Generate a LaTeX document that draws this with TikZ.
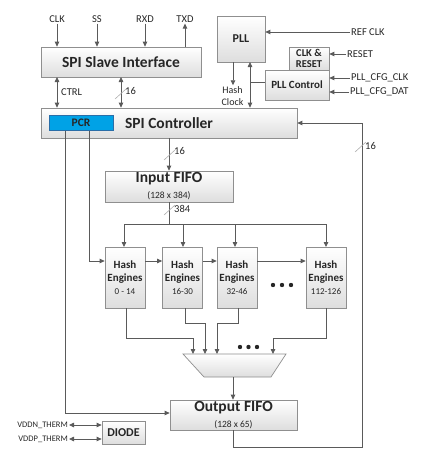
\documentclass[tikz,border=0pt]{standalone}
\usepackage{fontspec}
\setmainfont{Carlito}
\usetikzlibrary{arrows.meta,calc}
\definecolor{ln}{HTML}{5A5A5A}
\definecolor{bd}{HTML}{8F8F8F}
\definecolor{sl}{HTML}{B0B0B0}
\definecolor{pcrblue}{HTML}{00A2E6}
\definecolor{pcrbd}{HTML}{2A6EA8}
\definecolor{txt}{HTML}{262626}
\tikzset{
  blk/.style={draw=bd, line width=0.7pt, top color=white, bottom color=black!13, inner sep=0pt, text=txt, align=center},
  he/.style={blk, minimum width=40, minimum height=61, font=\fontsize{11}{13}\selectfont\bfseries},
  lbl/.style={inner sep=1pt, text=txt, font=\fontsize{10.5}{12}\selectfont},
  sml/.style={inner sep=1pt, text=txt, font=\fontsize{8.5}{10}\selectfont},
  ttl/.style={font=\fontsize{15.5}{18}\selectfont\bfseries},
  arr/.style={draw=ln, line width=0.8pt, -{Triangle[length=5pt,width=4.5pt]}},
  barr/.style={draw=ln, line width=0.8pt, {Triangle[length=5pt,width=4.5pt]}-{Triangle[length=5pt,width=4.5pt]}},
  wire/.style={draw=ln, line width=0.8pt},
  slash/.style={draw=sl, line width=0.6pt},
}
\newcommand{\subtxt}{\fontsize{9.5}{11}\selectfont\mdseries}
\newcommand{\hesub}{\fontsize{9}{11}\selectfont\mdseries}
\begin{document}
\begin{tikzpicture}[x=1pt,y=-1pt]
\useasboundingbox (0,0) rectangle (427,450);
% blocks
\node[blk, ttl, minimum width=160, minimum height=30] (ssi) at (121,62) {SPI Slave Interface};
\node[blk, ttl, minimum width=256, minimum height=30] (ctrl) at (169,123) {SPI Controller};
\node[draw=pcrbd, fill=pcrblue, line width=0.7pt, minimum width=64, minimum height=15, inner sep=0pt, text=txt, font=\fontsize{11.5}{13}\selectfont\bfseries] (pcr) at (81,123) {PCR};
\node[blk, minimum width=48, minimum height=46, font=\fontsize{12}{14}\selectfont\bfseries] (pll) at (241,39) {PLL};
\node[blk, minimum width=40, minimum height=23, font=\fontsize{10.5}{11.5}\selectfont\bfseries] (clkrst) at (309,58.5) {CLK \&\\RESET};
\node[blk, minimum width=64, minimum height=30, font=\fontsize{11}{13}\selectfont\bfseries] (pllctl) at (297,85) {PLL Control};
\node[blk, minimum width=128, minimum height=31, font=\fontsize{15.5}{15}\selectfont\bfseries] (infifo) at (169,186.5) {Input FIFO\\[1pt]\subtxt (128 x 384)};
\node[he] (he1) at (125,277.5) {Hash\\Engines\\\hesub 0 - 14};
\node[he] (he2) at (182.5,277.5) {Hash\\Engines\\\hesub 16-30};
\node[he] (he3) at (237,277.5) {Hash\\Engines\\\hesub 32-46};
\node[he] (he4) at (326,277.5) {Hash\\Engines\\\hesub 112-126};
\node[blk, minimum width=127, minimum height=30, font=\fontsize{15.5}{15}\selectfont\bfseries] (outfifo) at (233.5,415) {Output FIFO\\[1pt]\subtxt (128 x 65)};
\node[blk, minimum width=43, minimum height=23, font=\fontsize{12}{14}\selectfont\bfseries] (diode) at (123.5,432.5) {DIODE};
% mux
\draw[draw=bd, line width=0.7pt, top color=white, bottom color=black!13] (183,354) -- (286,354) -- (271,377) -- (204,377) -- cycle;
\coordinate (muxout) at (233,377);
% external labels
\node[lbl] (clk) at (57,19) {CLK};
\node[lbl] (ss) at (97,19) {SS};
\node[lbl] (rxd) at (145,19) {RXD};
\node[lbl] (txd) at (185,19) {TXD};
\node[lbl, anchor=west] (refclk) at (350,32) {REF CLK};
\node[lbl, anchor=west] (reset) at (346,54) {RESET};
\node[lbl, anchor=west] (cfgclk) at (350,78) {PLL\_CFG\_CLK};
\node[lbl, anchor=west] (cfgdat) at (349,92) {PLL\_CFG\_DAT};
\node[sml, anchor=east] (vddn) at (69,425) {VDDN\_THERM};
\node[sml, anchor=east] (vddp) at (69,439) {VDDP\_THERM};
\node[lbl, align=center, font=\fontsize{10}{12}\selectfont] (hclk) at (232.5,96) {Hash\\Clock};
\node[lbl, anchor=west] (lctrl) at (60,92) {CTRL};
% SPI pins
\draw[arr] (clk.south) -- (clk.south |- ssi.north);
\draw[arr] (ss.south) -- (ss.south |- ssi.north);
\draw[arr] (rxd.south) -- (rxd.south |- ssi.north);
\draw[arr] (txd.south |- ssi.north) -- (txd.south);
% SSI <-> controller
\draw[barr] (57,77) coordinate (c1) -- (c1 |- ctrl.north);
\draw[barr] (121,77) coordinate (d1) -- (d1 |- ctrl.north);
\draw[slash] (115,99) -- (126,89);
\node[lbl, anchor=west] (l16a) at (124,91) {16};
% PLL
\draw[arr] (refclk.west) -- (refclk.west -| pll.east);
\draw[arr] (reset.west) -- (reset.west -| clkrst.east);
\draw[arr] (cfgclk.west) -- (cfgclk.west -| pllctl.east);
\draw[arr] (cfgdat.west) -- (cfgdat.west -| pllctl.east);
\draw[arr] (233,62) coordinate (h1) -- (hclk.north -| h1);
\draw[barr] (250,62) coordinate (p1) -- (p1 |- ctrl.north);
\draw[wire] (pllctl.west |- 0,82) -- (250,82);
% controller -> input fifo
\draw[arr] (ctrl.south) -- (infifo.north);
\draw[slash] (164,160) -- (175,150);
\node[lbl, anchor=west] (l16b) at (173,151) {16};
% input fifo -> engines
\coordinate (bus) at (169,224);
\draw[wire] (infifo.south) -- (bus);
\draw[slash] (164,215) -- (175,205);
\node[lbl, anchor=west] (l384) at (173,209) {384};
\draw[wire] (124,224) -- (326,224);
\draw[arr] (124,224) -- (124,247);
\draw[arr] (183,224) -- (183,247);
\draw[arr] (235,224) -- (235,247);
\draw[arr] (326,224) -- (326,247);
% PCR lines
\draw[arr] (pcr.south -| 89,0) |- (he1.west |- 0,261);
\draw[arr] (pcr.south -| 65,0) |- (outfifo.west |- 0,413);
% chain
\draw[arr] (he1.east |- 0,261) -- (he2.west |- 0,261);
\draw[arr] (he2.east |- 0,261) -- (he3.west |- 0,261);
\draw[arr] (he3.east |- 0,261) -- (he4.west |- 0,261);
\foreach \xx in {273,282,291} \fill[black!85] (\xx,285) circle (2.2);
% engines -> mux
\draw[arr] (he1.south -| 126,0) |- (193,338) -- (193,354);
\draw[arr] (he2.south -| 185,0) |- (205,323) -- (205,354);
\draw[arr] (he3.south -| 238,0) |- (217,323) -- (217,354);
\draw[arr] (he4.south) |- (273,338) -- (273,354);
\foreach \xx in {240,248.5,257} \fill[black!85] (\xx,347) circle (2.2);
% mux -> output fifo
\draw[arr] (muxout) -- (muxout |- outfifo.north);
% feedback
\draw[arr] (outfifo.south) |- (362,447) |- (ctrl.east);
\draw[slash] (355,152) -- (366,142);
\node[lbl, anchor=west] (l16c) at (364,146) {16};
% diode
\draw[barr] (vddn.east) -- (vddn.east -| diode.west);
\draw[barr] (vddp.east) -- (vddp.east -| diode.west);
\end{tikzpicture}
\end{document}
